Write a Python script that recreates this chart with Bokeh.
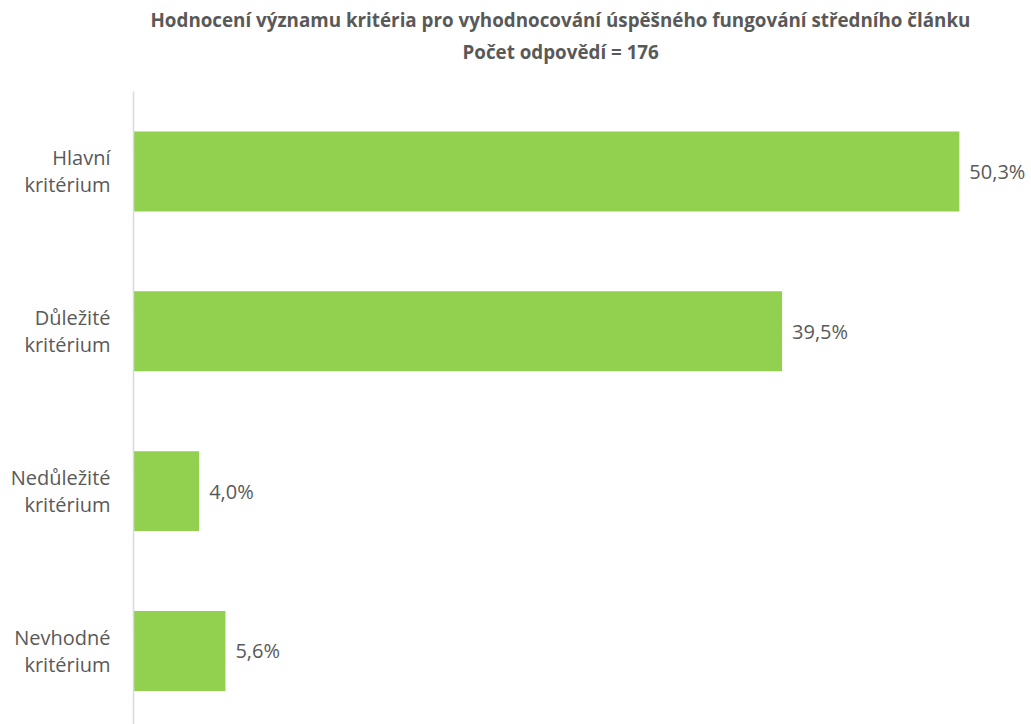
from bokeh.plotting import figure
from bokeh.models import ColumnDataSource, LabelSet, Range1d, FixedTicker, Title
from bokeh.core.properties import value
from bokeh.embed import file_html
from bokeh.resources import INLINE

categories = ["Hlavní\nkritérium", "Důležité\nkritérium", "Nedůležité\nkritérium", "Nevhodné\nkritérium"]
values = [50.3, 39.5, 4.0, 5.6]
value_labels = ["50,3%", "39,5%", "4,0%", "5,6%"]
title_line1 = "Hodnocení významu kritéria pro vyhodnocování úspěšného fungování středního článku"
title_line2 = "Počet odpovědí = 176"

n = len(categories)
ypos = [n - 1 - i for i in range(n)]

src = ColumnDataSource(dict(y=ypos, v=values, lab=value_labels))

TEXT = "#595959"
p = figure(width=1027, height=724, output_backend="svg", toolbar_location=None,
           x_range=Range1d(0, 54.45), y_range=Range1d(-0.46, 3.5),
           min_border_left=133, min_border_right=0, min_border_bottom=0, min_border_top=0)
p.title = None
# spacer between titles and plot area
p.add_layout(Title(text=" ", text_font_size="10px", standoff=14), "above")
p.add_layout(Title(text=title_line2, align="left", offset=329, text_font="Open Sans", text_font_style="bold",
                   text_font_size="18.8px", text_color=TEXT, standoff=0), "above")
p.add_layout(Title(text=title_line1, align="left", offset=17, text_font="Open Sans", text_font_style="bold",
                   text_font_size="18.8px", text_color=TEXT, standoff=8), "above")

p.hbar(y="y", right="v", left=0, height=0.5, source=src, color="#92D050", line_color=None)

p.add_layout(LabelSet(x="v", y="y", text="lab", source=src, x_offset=10, text_baseline="middle",
                      text_font=value("Open Sans"), text_font_size="20px", text_color=TEXT))

p.xaxis.visible = False
p.yaxis.ticker = FixedTicker(ticks=ypos)
p.yaxis.major_label_overrides = {y: c for y, c in zip(ypos, categories)}
p.yaxis.major_tick_line_color = None
p.yaxis.minor_tick_line_color = None
p.yaxis.axis_line_color = "#D9D9D9"
p.yaxis.axis_line_width = 1.5
p.yaxis.major_label_text_font = "Open Sans"
p.yaxis.major_label_text_font_size = "20px"
p.yaxis.major_label_text_line_height = 1.0
p.yaxis.major_label_text_color = TEXT
p.yaxis.major_label_standoff = 17
p.xgrid.visible = False
p.ygrid.visible = False
p.outline_line_color = None

open("out.html", "w").write(file_html(p, INLINE))
